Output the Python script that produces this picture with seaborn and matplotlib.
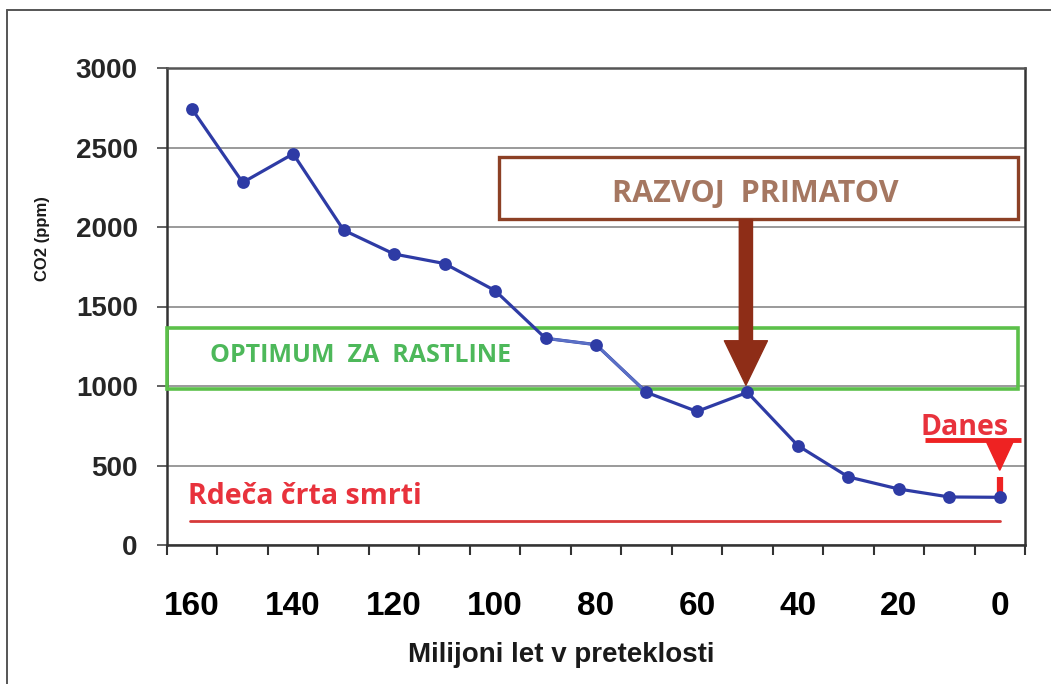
import numpy as np
import pandas as pd
import matplotlib
matplotlib.use("Agg")
import matplotlib.pyplot as plt
import seaborn as sns
from matplotlib.patches import Rectangle, Polygon, FancyArrowPatch
from matplotlib.lines import Line2D

# Data (millions of years ago vs CO2 ppm)
ages = [160, 150, 140, 130, 120, 110, 100, 90, 80, 70, 60, 50, 40, 30, 20, 10, 0]
co2 = [2740, 2280, 2460, 1980, 1830, 1770, 1600, 1300, 1260, 960, 840, 960, 625, 428, 352, 302, 300]
x_labels = [160, 140, 120, 100, 80, 60, 40, 20, 0]
y_ticks = [0, 500, 1000, 1500, 2000, 2500, 3000]

df = pd.DataFrame({"age": ages, "co2": co2})

sns.set_theme(style="white")
plt.rcParams['font.family'] = ['Liberation Sans', 'DejaVu Sans']

fig = plt.figure(figsize=(10.51, 6.84), dpi=100)
ax = fig.add_axes([167 / 1051, 1 - 545 / 684, 858 / 1051, 477 / 684])

blue = '#2e3ba5'
light_blue = '#5a70c6'

sns.lineplot(data=df, x="age", y="co2", ax=ax, color=blue, linewidth=2.3, zorder=5)
sns.lineplot(data=df[(df.age <= 90) & (df.age >= 70)], x="age", y="co2", ax=ax,
             color=light_blue, linewidth=2.0, zorder=6)
sns.scatterplot(data=df, x="age", y="co2", ax=ax, color=blue, s=85, edgecolor=blue,
                linewidth=0, zorder=7)

ax.set_xlim(165, -5)
ax.set_ylim(0, 3000)

# grid + spines
ax.set_yticks(y_ticks)
ax.yaxis.grid(True, color='#9a9a9a', linewidth=1.4)
ax.xaxis.grid(False)
for side in ['left', 'bottom', 'right']:
    ax.spines[side].set_color('#333333')
    ax.spines[side].set_linewidth(1.8)
ax.spines['top'].set_color('#555555')
ax.spines['top'].set_linewidth(1.8)

ax.set_xticks(x_labels)
ax.set_xticklabels([str(v) for v in x_labels], fontsize=24, fontweight='bold')
ax.set_xticks(np.arange(165, -6, -10), minor=True)
ax.tick_params(axis='x', which='major', length=0, pad=33, colors='black')
ax.tick_params(axis='x', which='minor', length=7, width=1.5, color='#333333', bottom=True)
ax.tick_params(axis='y', which='major', length=7, width=1.3, color='#555555', left=True,
               pad=14, labelsize=20)
for lab in ax.get_yticklabels():
    lab.set_fontweight('bold')
ax.set_xlabel("")
ax.set_ylabel("")

# axis titles
fig.text(561 / 1051, 1 - 655 / 684, "Milijoni let v preteklosti", ha='center', va='center',
         fontsize=20, fontweight='bold', color='#1a1a1a')
fig.text(43 / 1051, 1 - 239 / 684, "CO2 (ppm)", ha='center', va='center', rotation=90,
         fontsize=12, fontweight='bold', color='#1a1a1a')

# green "optimum" box
ax.add_patch(Rectangle((165, 980), -168.6, 385, fill=False, edgecolor='#5cc04a',
                       linewidth=2.6, zorder=4, clip_on=False))
ax.text(156.5, 1190, "OPTIMUM  ZA  RASTLINE", color='#4db85a', fontsize=18,
        fontweight='bold', family=['Open Sans', 'DejaVu Sans'], va='center', ha='left', zorder=8)

# brown "primates" box + arrow
ax.add_patch(Rectangle((99.2, 2050), -102.8, 390, facecolor='white', edgecolor='#8c4025',
                       linewidth=2.4, zorder=8))
ax.text(48.5, 2210, "RAZVOJ  PRIMATOV", color='#a57761', fontsize=22, fontweight='bold',
        family=['Open Sans', 'DejaVu Sans'], va='center', ha='center', zorder=9)
arrow = FancyArrowPatch((50.3, 2045), (50.3, 1005),
                        arrowstyle='simple,head_length=32,head_width=31,tail_width=9.5',
                        mutation_scale=1, color='#8e2d17', zorder=9, shrinkA=0, shrinkB=0)
ax.add_patch(arrow)

# red "death line"
ax.plot([160.4, 0], [151, 151], color='#d63a3a', linewidth=2.0, zorder=4)
ax.text(160.8, 305, "Rdeča črta smrti", color='#e8323c', fontsize=20.5, fontweight='bold',
        family=['Open Sans', 'DejaVu Sans'], va='center', ha='left', zorder=8)

# "Danes" marker
ax.text(6.9, 740, "Danes", color='#e8323c', fontsize=20.5, fontweight='bold',
        family=['Open Sans', 'DejaVu Sans'], va='center', ha='center', zorder=8)
ax.plot([14.8, -4.2], [660, 660], color='#ee2222', linewidth=3.5, zorder=8, clip_on=False,
        solid_capstyle='butt')
ax.add_patch(Polygon([[2.8, 660], [-2.8, 660], [0, 470]], closed=True, color='#ee2222',
                     zorder=8, clip_on=False))
ax.plot([0, 0], [425, 330], color='#ee2222', linewidth=4.5, zorder=6, solid_capstyle='butt')

# outer frame
fig.add_artist(Line2D([7 / 1051, 1], [1 - 10 / 684, 1 - 10 / 684], color='#555555',
                      linewidth=1.4, transform=fig.transFigure))
fig.add_artist(Line2D([7 / 1051, 7 / 1051], [0, 1 - 10 / 684], color='#555555',
                      linewidth=1.4, transform=fig.transFigure))

fig.savefig('out.png', dpi=100, facecolor='white')
